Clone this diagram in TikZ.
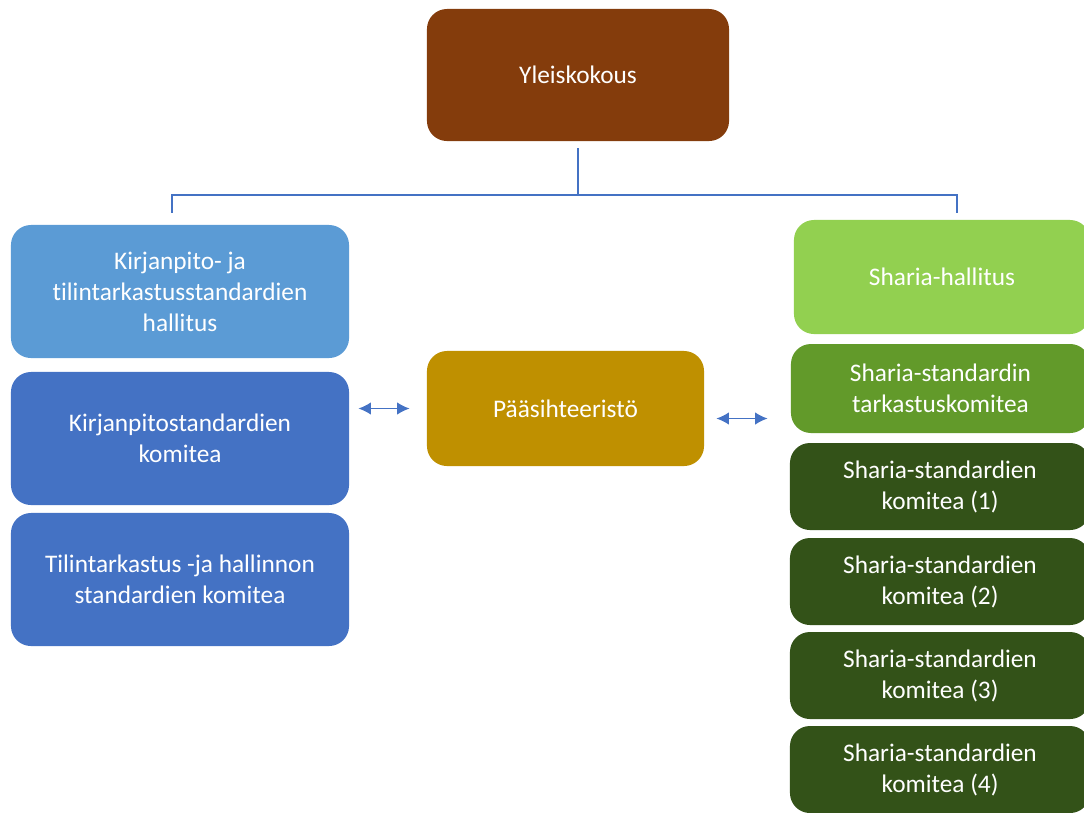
\documentclass[tikz,border=0pt]{standalone}
\usepackage{fontspec}
\setmainfont{Carlito}[Ligatures={NoCommon,NoContextual}, RawFeature={-liga;-clig;-dlig;-calt}]
\usetikzlibrary{arrows.meta}

\definecolor{brownbox}{HTML}{843C0C}
\definecolor{lightblue}{HTML}{5B9BD5}
\definecolor{darkblue}{HTML}{4472C4}
\definecolor{goldbox}{HTML}{BF9000}
\definecolor{lightgreen}{HTML}{92D050}
\definecolor{midgreen}{HTML}{629A2A}
\definecolor{darkgreen}{HTML}{335218}
\definecolor{linkblue}{HTML}{4472C4}

\begin{document}
\begin{tikzpicture}[x=0.025cm, y=-0.025cm,
	box/.style={rounded corners=0.5cm, text=white, align=center,
		font=\fontsize{18}{22}\selectfont, inner sep=0pt},
	tree/.style={draw=linkblue, line width=0.9pt},
	biarrow/.style={draw=linkblue, line width=1.2pt, {Latex[length=9pt,width=9pt]}-{Latex[length=9pt,width=9pt]}}]

	\useasboundingbox (0,0) rectangle (1084,812);
	\clip (0,0) rectangle (1084,812);

	\node [box, fill=brownbox, minimum width=7.55cm, minimum height=3.3cm] (yk) at (578,75) {Yleiskokous};

	\node [box, fill=lightblue, minimum width=8.45cm, minimum height=3.325cm] (l1) at (180,291.5) {Kirjanpito- ja\\tilintarkastusstandardien\\hallitus};
	\node [box, fill=darkblue, minimum width=8.45cm, minimum height=3.325cm] (l2) at (180,438.5) {Kirjanpitostandardien\\komitea};
	\node [box, fill=darkblue, minimum width=8.45cm, minimum height=3.325cm] (l3) at (180,579.5) {Tilintarkastus -ja hallinnon\\standardien komitea};

	\node [box, fill=goldbox, minimum width=6.925cm, minimum height=2.875cm] (ps) at (565.5,408.5) {Pääsihteeristö};

	\node [box, fill=lightgreen, minimum width=7.4cm, minimum height=2.85cm] (r1) at (942,277) {Sharia-hallitus};
	\node [box, fill=midgreen, minimum width=7.475cm, minimum height=2.225cm] (r2) at (940.5,388.5) {Sharia-standardin\\tarkastuskomitea};
	\foreach \n/\y in {1/486.5, 2/581.5, 3/675.5, 4/769.5}
		\node [box, fill=darkgreen, minimum width=7.5cm, minimum height=2.175cm] (k\n) at (940,\y) {Sharia-standardien\\komitea (\n)};

	\coordinate (bus) at (578,195);
	\coordinate (busl) at (172,195);
	\coordinate (busr) at (957,195);

	\draw [tree, shorten <=0.175cm] (yk.south) -- (yk.south |- bus);
	\draw [tree, shorten <=0.3cm, shorten >=0.175cm] (busl |- l1.north) -- (busl) -- (busr) -- (busr |- r1.north);

	\draw [biarrow, shorten <=0.225cm, shorten >=0.425cm] (ps.west -| l2.east) -- (ps.west);
	\draw [biarrow, shorten <=0.3cm, shorten >=0.575cm] ([yshift=-0.25cm]ps.east) -- ([yshift=-0.25cm]ps.east -| r2.west);

\end{tikzpicture}
\end{document}
